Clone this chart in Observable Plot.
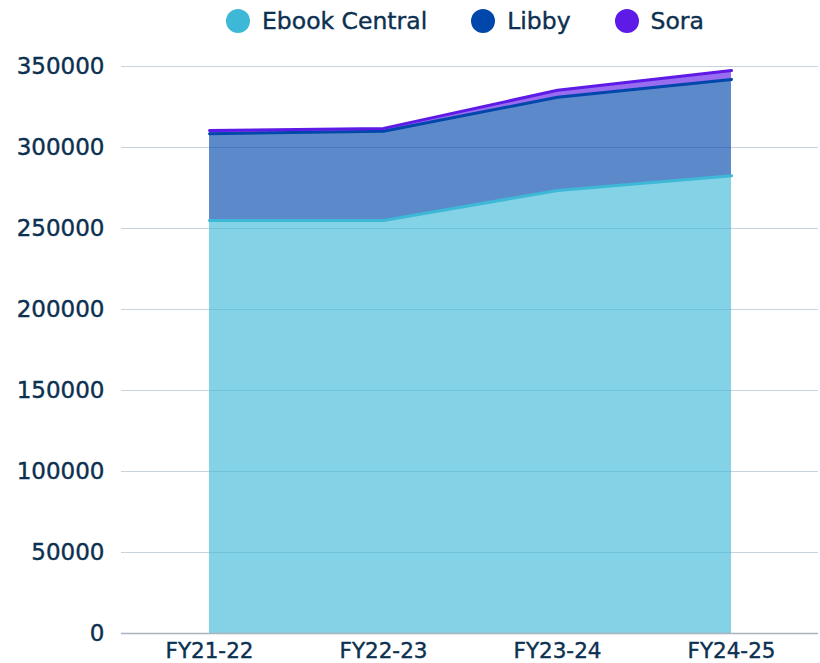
<!DOCTYPE html>
<html>
<head>
<meta charset="utf-8">
<script src="https://cdn.jsdelivr.net/npm/d3@7"></script>
<script src="https://cdn.jsdelivr.net/npm/@observablehq/plot@0.6"></script>
<style>
  html, body { margin: 0; padding: 0; background: #fff; }
  body { width: 820px; height: 663px; overflow: hidden; font-family: "DejaVu Sans", sans-serif; color: #0b3050; }
  #legend { height: 40px; display: flex; align-items: center; padding-left: 226px; padding-top: 1px; box-sizing: border-box; font-size: 23.5px; -webkit-text-stroke: 0.4px #0b3050; }
  .item { display: flex; align-items: center; margin-right: 44px; }
  .dot { width: 24px; height: 24px; border-radius: 50%; margin-right: 12px; }
  #chart svg text { stroke: #0b3050; stroke-width: 0.4px; }
</style>
</head>
<body>
<div id="legend"></div>
<div id="chart"></div>
<script>
const years = ["FY21-22", "FY22-23", "FY23-24", "FY24-25"];
const seriesNames = ["Ebook Central", "Libby", "Sora"];
const ebookCentral = [255000, 255000, 273500, 282500];
const libby = [53500, 55000, 57500, 59500];
const sora = [2000, 1800, 4300, 5500];
const seriesColors = ["#3db8d6", "#0047ab", "#5e1ae6"];
const yTicks = [0, 50000, 100000, 150000, 200000, 250000, 300000, 350000];

const seriesValues = [ebookCentral, libby, sora];
const data = [];
seriesNames.forEach((s, i) => years.forEach((y, j) => data.push({year: y, series: s, value: seriesValues[i][j]})));

const legend = document.getElementById("legend");
seriesNames.forEach((s, i) => {
  const it = document.createElement("div");
  it.className = "item";
  const d = document.createElement("span");
  d.className = "dot";
  d.style.background = seriesColors[i];
  const t = document.createElement("span");
  t.textContent = s;
  it.appendChild(d); it.appendChild(t);
  legend.appendChild(it);
});

const chart = Plot.plot({
  width: 820,
  height: 623,
  marginLeft: 121,
  marginRight: 2,
  marginTop: 26,
  marginBottom: 30,
  style: {fontFamily: "DejaVu Sans, sans-serif", fontSize: "22px", color: "#0b3050", background: "#fff", overflow: "visible"},
  x: {type: "point", domain: years, padding: 0.5, label: null},
  y: {domain: [0, 350000], label: null},
  color: {domain: seriesNames, range: seriesColors},
  marks: [
    Plot.gridY(yTicks, {stroke: "#c9d3dd", strokeOpacity: 1, strokeWidth: 1}),
    Plot.areaY(data, {x: "year", y: "value", fill: "series", fillOpacity: 0.64, curve: "linear"}),
    Plot.lineY(data, Plot.stackY2({x: "year", y: "value", z: "series", stroke: "series", strokeWidth: 3})),
    Plot.ruleY([0], {stroke: "#a9b4bf", strokeWidth: 1.5}),
    Plot.axisY(yTicks, {tickSize: 0, tickPadding: 17, tickFormat: d3.format("d"), fontSize: 23, fill: "#0b3050"}),
    Plot.axisX(years, {tickSize: 0, tickPadding: 9, fontSize: 21.5, fill: "#0b3050"})
  ]
});
document.getElementById("chart").appendChild(chart);
</script>
</body>
</html>
